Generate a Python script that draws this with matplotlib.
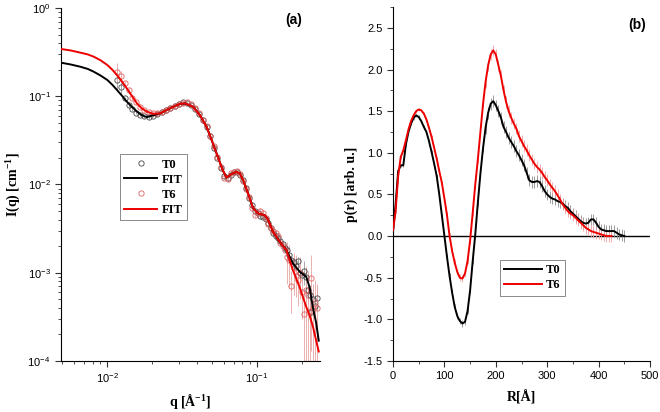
import numpy as np
import matplotlib
matplotlib.use("Agg")
import matplotlib.pyplot as plt
from matplotlib.ticker import MultipleLocator, LogLocator, NullFormatter

plt.rcParams['font.family'] = ['Liberation Sans', 'DejaVu Sans']
plt.rcParams['mathtext.fontset'] = 'custom'
plt.rcParams['mathtext.rm'] = 'Liberation Sans'
plt.rcParams['mathtext.bf'] = 'Liberation Serif:bold'

# ---------------- panel (a): SAXS curves ----------------
q_fit = [0.0049, 0.0057, 0.0066, 0.0074, 0.0081, 0.0090, 0.0100, 0.0108, 0.0116,
         0.0125, 0.0135, 0.0146, 0.0158, 0.0170, 0.0184, 0.0204,
         0.0226, 0.0263, 0.0307, 0.0331, 0.0376, 0.0417, 0.0462, 0.0499, 0.0541,
         0.0593, 0.0628, 0.0680, 0.0733, 0.0770, 0.0811, 0.0875, 0.0945, 0.1020,
         0.1130, 0.1190, 0.1286, 0.1423, 0.1577, 0.1746, 0.1935, 0.2145, 0.2256,
         0.2372, 0.2500, 0.2600]
fit_T0 = [0.240, 0.229, 0.216, 0.204, 0.190, 0.172, 0.153, 0.135, 0.118,
          0.102, 0.087, 0.076, 0.067, 0.061, 0.058, 0.061,
          0.064, 0.073, 0.082, 0.083, 0.076, 0.061, 0.045, 0.032, 0.022,
          0.0145, 0.0120, 0.0132, 0.0139, 0.0134, 0.0112, 0.0079, 0.0054, 0.0047,
          0.0045, 0.0040, 0.0029, 0.00225, 0.00181, 0.00128, 0.00103, 0.00090, 0.00069,
          0.00041, 0.00027, 0.00017]
fit_T6 = [0.343, 0.330, 0.312, 0.298, 0.281, 0.256, 0.226, 0.200, 0.174,
          0.148, 0.123, 0.101, 0.083, 0.073, 0.067, 0.063,
          0.064, 0.073, 0.082, 0.083, 0.076, 0.061, 0.045, 0.032, 0.022,
          0.0145, 0.0120, 0.0132, 0.0139, 0.0134, 0.0112, 0.0079, 0.0054, 0.0047,
          0.0045, 0.0040, 0.0029, 0.00225, 0.00181, 0.00107, 0.00069, 0.00041, 0.00033,
          0.00025, 0.00017, 0.000128]

q_data = [0.0117, 0.0124, 0.0131, 0.0139, 0.0147, 0.0156, 0.0166, 0.0177, 0.0189,
          0.0202, 0.0216, 0.0231, 0.0247, 0.0264, 0.0282, 0.0301, 0.0321, 0.0342,
          0.0364, 0.0387, 0.0411, 0.0436, 0.0462, 0.0489, 0.0517, 0.0546, 0.0576,
          0.0607, 0.0639, 0.0672, 0.0706, 0.0741, 0.0777, 0.0814, 0.0852, 0.0891,
          0.0931, 0.0972, 0.1014, 0.1057, 0.1101, 0.1146, 0.1192, 0.1239, 0.1287,
          0.1336, 0.1386, 0.1437, 0.1489, 0.1542, 0.1596, 0.1651, 0.1707, 0.1764,
          0.1822, 0.1881, 0.1941, 0.2002, 0.2064, 0.2127, 0.2191, 0.2256, 0.2322,
          0.2389, 0.2457, 0.2526]
I_T0 = [0.153, 0.128, 0.095, 0.079, 0.071, 0.065, 0.062, 0.059, 0.0575,
        0.060, 0.063, 0.066, 0.069, 0.074, 0.078, 0.081, 0.085, 0.083,
        0.080, 0.072, 0.063, 0.054, 0.045, 0.035, 0.026, 0.020, 0.0155,
        0.0126, 0.0120, 0.0129, 0.0138, 0.0138, 0.0129, 0.0112, 0.0091, 0.0071,
        0.0058, 0.0050, 0.0047, 0.0044, 0.0043, 0.0041, 0.0037, 0.0032, 0.0028,
        0.0026, 0.00245, 0.0023, 0.0021, 0.0019, 0.0018, 0.0016, 0.00138, 0.00132,
        0.00118, 0.00135, 0.00100, 0.00095, 0.00105, 0.00090, 0.00063, 0.00056, 0.00036,
        0.00050, 0.00042, 0.00052]
I_T6 = [0.190, 0.170, 0.142, 0.118, 0.095, 0.085, 0.076, 0.069, 0.066,
        0.065, 0.064, 0.067, 0.069, 0.073, 0.077, 0.081, 0.083, 0.085,
        0.081, 0.074, 0.064, 0.054, 0.046, 0.035, 0.027, 0.0205, 0.0158,
        0.0120, 0.0115, 0.0135, 0.0138, 0.0141, 0.0132, 0.0110, 0.0089, 0.0072,
        0.0054, 0.0045, 0.0047, 0.0050, 0.0047, 0.0042, 0.0036, 0.0032, 0.0030,
        0.0028, 0.0026, 0.0022, 0.0020, 0.0018, 0.0015, 0.00138, 0.00070, 0.00112,
        0.00105, 0.00083, 0.00100, 0.00060, 0.00034, 0.00063, 0.00056, 0.00037, 0.00087,
        0.00040, 0.00045, 0.00040]
# relative errors of the data points
rel_T0 = [0.25, 0.2] + [0.04] * 36 + [0.06] * 12 + [0.12] * 8 + [0.3] * 8
rel_T6 = [0.25, 0.15] + [0.04] * 36 + [0.08] * 12 + [0.5] * 8 + [0.85] * 8

# ---------------- panel (b): p(r) ----------------
R_T0 = np.arange(0, 455, 5)
p_T0 = [0.05, 0.38, 0.78, 0.85, 0.85, 1.10, 1.25, 1.35, 1.42, 1.45,
        1.43, 1.38, 1.31, 1.25, 1.14, 1.01, 0.87, 0.72, 0.50, 0.25,
        0.00, -0.25, -0.48, -0.68, -0.85, -0.96, -1.02, -1.05, -1.03, -0.90,
        -0.65, -0.30, 0.02, 0.40, 0.75, 1.05, 1.30, 1.48, 1.59, 1.62,
        1.57, 1.50, 1.42, 1.31, 1.25, 1.18, 1.13, 1.08, 1.02, 0.97,
        0.91, 0.85, 0.76, 0.67, 0.65, 0.65, 0.66, 0.65, 0.60, 0.54,
        0.50, 0.47, 0.45, 0.44, 0.42, 0.41, 0.39, 0.36, 0.34, 0.30,
        0.27, 0.24, 0.21, 0.18, 0.16, 0.15, 0.16, 0.20, 0.20, 0.16,
        0.11, 0.08, 0.07, 0.06, 0.06, 0.06, 0.06, 0.04, 0.02, 0.01,
        0.00]
R_T6 = np.arange(0, 430, 5)
p_T6 = [0.07, 0.30, 0.72, 0.95, 1.03, 1.15, 1.28, 1.38, 1.45, 1.50,
        1.52, 1.51, 1.47, 1.40, 1.30, 1.19, 1.06, 0.93, 0.78, 0.64,
        0.45, 0.25, 0.00, -0.18, -0.32, -0.43, -0.50, -0.51, -0.45, -0.30,
        -0.05, 0.28, 0.62, 0.92, 1.25, 1.58, 1.85, 2.05, 2.18, 2.23,
        2.18, 2.05, 1.92, 1.75, 1.61, 1.50, 1.42, 1.35, 1.29, 1.20,
        1.14, 1.08, 1.03, 0.97, 0.92, 0.87, 0.83, 0.80, 0.76, 0.71,
        0.67, 0.62, 0.58, 0.54, 0.49, 0.44, 0.38, 0.34, 0.30, 0.27,
        0.25, 0.22, 0.19, 0.16, 0.13, 0.10, 0.08, 0.06, 0.05, 0.04,
        0.03, 0.02, 0.01, 0.00, 0.00, 0.00]
err_T0 = [0.02] * 20 + [0.04] * 16 + [0.07] * 55
err_T6 = [0.02] * 20 + [0.04] * 16 + [0.07] * 50

fig = plt.figure(figsize=(6.6, 4.12), dpi=100, facecolor='white')
ax1 = fig.add_axes([0.0924, 0.1238, 0.3924, 0.8568])
ax2 = fig.add_axes([0.5955, 0.1238, 0.3894, 0.8590])

label_font = dict(family='Liberation Serif', fontweight='bold', fontsize=10)

# --- (a)
ax1.errorbar(q_data, I_T0, yerr=np.array(rel_T0) * np.array(I_T0), fmt='none',
             ecolor='#9a9a9a', elinewidth=0.6, zorder=1)
ax1.errorbar(q_data, I_T6, yerr=np.array(rel_T6) * np.array(I_T6), fmt='none',
             ecolor='#e8a4a4', elinewidth=0.6, zorder=1)
ax1.plot(q_data, I_T0, 'o', mfc='none', mec='#444444', ms=3.8, mew=0.6,
         label='T0', zorder=2)
ax1.plot(q_fit, fit_T0, '-', color='black', lw=1.4, label='FIT', zorder=3)
ax1.plot(q_data, I_T6, 'o', mfc='none', mec='#e06060', ms=3.8, mew=0.6,
         label='T6', zorder=2)
ax1.plot(q_fit, fit_T6, '-', color='#ee0000', lw=1.4, label='FIT', zorder=4)

ax1.set_xscale('log')
ax1.set_yscale('log')
ax1.set_xlim(0.0049, 0.265)
ax1.set_ylim(1e-4, 1)
ax1.yaxis.set_minor_locator(LogLocator(base=10, subs=np.arange(2, 10)))
ax1.yaxis.set_minor_formatter(NullFormatter())
ax1.xaxis.set_minor_locator(LogLocator(base=10, subs=np.arange(2, 10)))
ax1.xaxis.set_minor_formatter(NullFormatter())
ax1.set_xlabel('q [Å$^{\\mathbf{-1}}$]', labelpad=5, **label_font)
ax1.set_ylabel('I(q) [cm$^{\\mathbf{-1}}$]', labelpad=4, **label_font)
ax1.text(0.90, 0.966, '(a)', transform=ax1.transAxes, fontsize=10,
         fontweight='bold', ha='center', va='center')
leg1 = ax1.legend(loc='upper left', bbox_to_anchor=(0.228, 0.586),
                  prop=dict(family='Liberation Serif', weight='bold', size=9),
                  frameon=True, fancybox=False, edgecolor='#555555',
                  handlelength=2.6, handletextpad=0.4, borderpad=0.35,
                  labelspacing=0.25, borderaxespad=0)
leg1.get_frame().set_linewidth(0.6)

# --- (b)
ax2.axhline(0, color='black', lw=1.0, zorder=1)
ax2.errorbar(R_T0, p_T0, yerr=err_T0, fmt='none', ecolor='#8c8c8c',
             elinewidth=0.6, zorder=2)
ax2.errorbar(R_T6, p_T6, yerr=err_T6, fmt='none', ecolor='#f0a0a0',
             elinewidth=0.6, zorder=2)
ax2.plot(R_T0, p_T0, color='black', lw=1.4, label='T0', zorder=3)
ax2.plot(R_T6, p_T6, color='#ee0000', lw=1.4, label='T6', zorder=4)
ax2.set_xlim(0, 500)
ax2.set_ylim(-1.5, 2.75)
ax2.xaxis.set_major_locator(MultipleLocator(100))
ax2.xaxis.set_minor_locator(MultipleLocator(50))
ax2.yaxis.set_major_locator(MultipleLocator(0.5))
ax2.yaxis.set_minor_locator(MultipleLocator(0.25))
ax2.set_yticks(np.arange(-1.5, 2.6, 0.5))
ax2.set_yticklabels([f'{v:.1f}' for v in np.arange(-1.5, 2.6, 0.5)])
ax2.set_xlabel('R[Å]', labelpad=6, **label_font)
ax2.set_ylabel('p(r) [arb. u.]', labelpad=4, **label_font)
ax2.text(0.95, 0.95, '(b)', transform=ax2.transAxes, fontsize=10,
         fontweight='bold', ha='center', va='center')
leg2 = ax2.legend(loc='upper left', bbox_to_anchor=(0.416, 0.286),
                  prop=dict(family='Liberation Serif', weight='bold', size=9),
                  frameon=True, fancybox=False, edgecolor='#555555',
                  handlelength=3.0, handletextpad=0.3, borderpad=0.35,
                  labelspacing=0.25, borderaxespad=0)
leg2.get_frame().set_linewidth(0.6)

for ax in (ax1, ax2):
    ax.spines['top'].set_visible(False)
    ax.spines['right'].set_visible(False)
    ax.tick_params(which='major', direction='out', length=4, width=0.8,
                   labelsize=8, color='#333333')
    ax.tick_params(which='minor', direction='out', length=2, width=0.6,
                   color='#333333')
    ax.patch.set_visible(False)

fig.savefig('out.png', dpi=100, facecolor='white')
